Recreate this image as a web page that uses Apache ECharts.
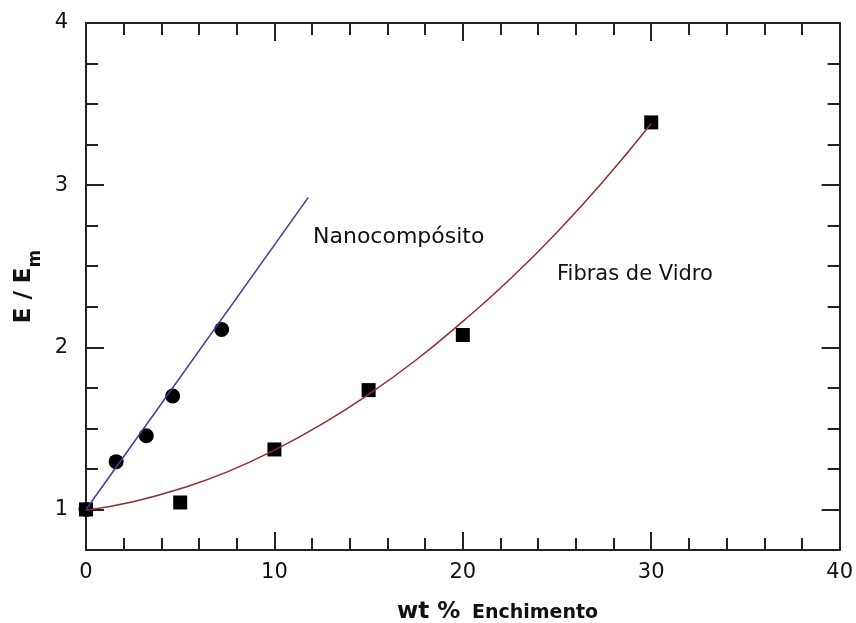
<!DOCTYPE html>
<html>
<head>
<meta charset="utf-8">
<script src="https://cdn.jsdelivr.net/npm/echarts@6/dist/echarts.min.js"></script>
<style>
  html, body { margin: 0; padding: 0; background: #fff; }
  #chart { width: 856px; height: 623px; }
</style>
</head>
<body>
<div id="chart"></div>
<script>
// Nanocompósito: pontos medidos
const nanoX = [0, 1.6, 3.2, 4.6, 7.2];
const nanoY = [1.0, 1.295, 1.455, 1.70, 2.11];

// Fibras de Vidro: pontos medidos
const glassX = [0, 5, 10, 15, 20, 30];
const glassY = [1.0, 1.043, 1.37, 1.736, 2.076, 3.387];

// linha ajustada (nanocompósito)
const nanoFitX = [0, 11.8];
const nanoFitY = [1.0, 2.925];

// curva ajustada (fibras de vidro)
const glassFitX = [0, 2.5, 5, 7.5, 10, 12.5, 15, 17.5, 20, 22.5, 25, 27.5, 30];
const glassFitY = [0.995, 1.048, 1.128, 1.232, 1.366, 1.525, 1.71, 1.92, 2.16, 2.42, 2.71, 3.03, 3.38];

const yMajor = [1, 2, 3, 4];

function pairs(xs, ys) {
  return xs.map((x, i) => [x, ys[i]]);
}

const axisColor = '#222';
const fontFamily = 'DejaVu Sans';

const chart = echarts.init(document.getElementById('chart'));

const xBase = {
  type: 'value',
  min: 0,
  max: 40,
  interval: 10,
  axisLine: { show: true, onZero: false, lineStyle: { color: axisColor, width: 2 } },
  axisTick: { show: true, inside: true, length: 18, lineStyle: { color: axisColor, width: 2 } },
  minorTick: { show: true, splitNumber: 5, length: 12, lineStyle: { color: axisColor, width: 2 } },
  splitLine: { show: false },
  minorSplitLine: { show: false }
};

const yBase = {
  type: 'value',
  min: 0.75,
  max: 4,
  interval: 0.25,
  splitLine: { show: false }
};

const option = {
  animation: false,
  backgroundColor: '#fff',
  grid: { left: 86, right: 14, top: 23, bottom: 73 },
  xAxis: [
    Object.assign({}, xBase, {
      position: 'bottom',
      axisLabel: { color: '#111', fontSize: 21, fontFamily: fontFamily, margin: 12 }
    }),
    Object.assign({}, xBase, {
      position: 'top',
      axisLabel: { show: false }
    })
  ],
  yAxis: [
    // esquerda: linha, rótulos, ticks menores
    Object.assign({}, yBase, {
      position: 'left',
      axisLine: { show: true, onZero: false, lineStyle: { color: axisColor, width: 2 } },
      axisTick: { show: true, inside: true, length: 12, lineStyle: { color: axisColor, width: 2 } },
      axisLabel: {
        color: '#111', fontSize: 21, fontFamily: fontFamily, margin: 18,
        formatter: v => (Math.abs(v - Math.round(v)) < 1e-6 ? String(Math.round(v)) : '')
      },
      name: '{e|E / E}{m|m}',
      nameLocation: 'middle',
      nameRotate: 90,
      nameGap: 42,
      nameTextStyle: {
        rich: {
          e: { fontSize: 23, fontWeight: 'bold', fontFamily: fontFamily, color: '#111', lineHeight: 24 },
          m: { fontSize: 17, fontWeight: 'bold', fontFamily: fontFamily, color: '#111', verticalAlign: 'bottom', lineHeight: 40 }
        }
      }
    }),
    // esquerda: ticks maiores
    Object.assign({}, yBase, {
      position: 'left',
      axisLine: { show: false, onZero: false },
      axisTick: { show: true, inside: true, length: 18, customValues: yMajor, lineStyle: { color: axisColor, width: 2 } },
      axisLabel: { show: false }
    }),
    // direita: linha e ticks menores
    Object.assign({}, yBase, {
      position: 'right',
      axisLine: { show: true, onZero: false, lineStyle: { color: axisColor, width: 2 } },
      axisTick: { show: true, inside: true, length: 12, lineStyle: { color: axisColor, width: 2 } },
      axisLabel: { show: false }
    }),
    // direita: ticks maiores
    Object.assign({}, yBase, {
      position: 'right',
      axisLine: { show: false, onZero: false },
      axisTick: { show: true, inside: true, length: 18, customValues: yMajor, lineStyle: { color: axisColor, width: 2 } },
      axisLabel: { show: false }
    })
  ],
  series: [
    {
      name: 'Nanocompósito',
      type: 'scatter',
      symbol: 'circle',
      symbolSize: 15,
      itemStyle: { color: '#000', opacity: 1 },
      data: pairs(nanoX, nanoY),
      z: 2
    },
    {
      name: 'Fibras de Vidro',
      type: 'scatter',
      symbol: 'rect',
      symbolSize: 14,
      itemStyle: { color: '#000', opacity: 1 },
      data: pairs(glassX, glassY),
      z: 2
    },
    {
      name: 'ajuste nano',
      type: 'line',
      showSymbol: false,
      symbol: 'none',
      lineStyle: { color: '#3c3c9e', width: 1.5 },
      data: pairs(nanoFitX, nanoFitY),
      z: 3
    },
    {
      name: 'ajuste fibras',
      type: 'line',
      smooth: true,
      showSymbol: false,
      symbol: 'none',
      lineStyle: { color: '#8e2f2f', width: 1.5 },
      data: pairs(glassFitX, glassFitY),
      z: 3
    }
  ],
  graphic: [
    {
      type: 'text',
      left: 313,
      top: 226,
      style: { text: 'Nanocompósito', fontSize: 22, fontFamily: fontFamily, fill: '#111' }
    },
    {
      type: 'text',
      left: 557,
      top: 264,
      style: { text: 'Fibras de Vidro', fontSize: 21, fontFamily: fontFamily, fill: '#111' }
    },
    {
      type: 'text',
      left: 397,
      top: 601,
      style: { text: 'wt %', fontSize: 23, fontWeight: 'bold', fontFamily: fontFamily, fill: '#111' }
    },
    {
      type: 'text',
      left: 472,
      top: 604,
      style: { text: 'Enchimento', fontSize: 19, fontWeight: 'bold', fontFamily: fontFamily, fill: '#111' }
    }
  ]
};

chart.setOption(option);
</script>
</body>
</html>
